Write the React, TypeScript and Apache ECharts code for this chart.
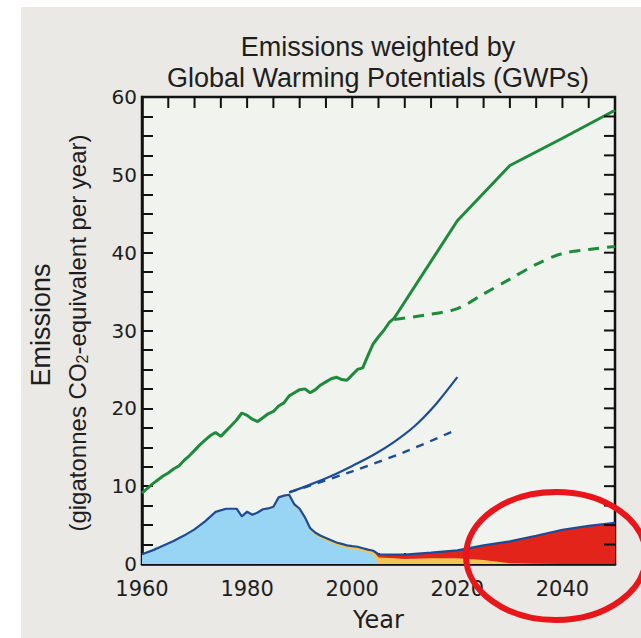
import React, { useEffect, useRef } from 'react';
import * as echarts from 'echarts';

// ---- data ----
const xTickLabels = [1960, 1980, 2000, 2020, 2040];
const yTickLabels = [0, 10, 20, 30, 40, 50, 60];

// ODS and substitutes emissions by group (GtCO2-eq per year)
const stackYears = [
  1960, 1962, 1964, 1966, 1968, 1970, 1972, 1974, 1976, 1977, 1978, 1979, 1980,
  1981, 1982, 1983, 1984, 1985, 1986, 1987, 1988, 1989, 1990, 1991, 1992, 1993,
  1994, 1995, 1996, 1997, 1998, 1999, 2000, 2001, 2002, 2003, 2004, 2005, 2008,
  2010, 2015, 2020, 2025, 2030, 2035, 2040, 2045, 2050,
];
const cfcValues = [
  1.2, 1.7, 2.3, 2.9, 3.6, 4.4, 5.4, 6.6, 7.0, 7.0, 7.0, 6.0, 6.6,
  6.2, 6.5, 6.9, 7.0, 7.2, 8.4, 8.6, 8.7, 7.4, 6.8, 5.7, 4.3, 3.7,
  3.3, 3.0, 2.7, 2.4, 2.2, 2.0, 1.9, 1.8, 1.6, 1.4, 1.25, 0, 0,
  0, 0, 0, 0, 0, 0, 0, 0, 0,
];
const hcfcValues = [
  0.05, 0.05, 0.05, 0.05, 0.05, 0.05, 0.08, 0.1, 0.1, 0.1, 0.1, 0.12, 0.12,
  0.12, 0.12, 0.13, 0.14, 0.15, 0.16, 0.18, 0.2, 0.25, 0.3, 0.3, 0.3, 0.32,
  0.33, 0.35, 0.36, 0.37, 0.38, 0.39, 0.4, 0.42, 0.43, 0.44, 0.45, 0.85, 0.75,
  0.65, 0.75, 0.75, 0.5, 0.1, 0.03, 0, 0, 0,
];
const hfcValues = [
  0, 0, 0, 0, 0, 0, 0, 0, 0, 0, 0, 0, 0,
  0, 0, 0, 0, 0, 0, 0, 0, 0, 0, 0, 0, 0,
  0, 0, 0, 0, 0, 0, 0, 0, 0, 0, 0, 0.4, 0.45,
  0.55, 0.7, 1.0, 1.9, 2.8, 3.6, 4.4, 4.9, 5.3,
];

// ODS without Montreal Protocol (solid) and with natural growth (dashed)
const blueSolidYears = [1988, 1992, 1996, 2000, 2004, 2008, 2012, 2016, 2020];
const blueSolidValues = [9.2, 10.2, 11.3, 12.6, 14.0, 15.7, 17.8, 20.6, 24.0];
const blueDashYears = [1988, 2000, 2010, 2020];
const blueDashValues = [9.2, 11.9, 14.4, 17.3];

// CO2 emissions (green)
const greenYears = [
  1960, 1961, 1962, 1963, 1964, 1965, 1966, 1967, 1968, 1969, 1970, 1971, 1972,
  1973, 1974, 1975, 1976, 1977, 1978, 1979, 1980, 1981, 1982, 1983, 1984, 1985,
  1986, 1987, 1988, 1989, 1990, 1991, 1992, 1993, 1994, 1995, 1996, 1997, 1998,
  1999, 2000, 2001, 2002, 2003, 2004, 2005, 2006, 2007, 2008, 2020, 2030, 2040, 2050,
];
const greenValues = [
  9.1, 9.7, 10.3, 10.8, 11.3, 11.7, 12.2, 12.6, 13.3, 13.9, 14.6, 15.3, 15.9,
  16.5, 16.9, 16.4, 17.1, 17.8, 18.5, 19.4, 19.1, 18.6, 18.3, 18.8, 19.3, 19.6,
  20.3, 20.7, 21.6, 22.0, 22.4, 22.5, 22.0, 22.4, 23.0, 23.4, 23.8, 24.0, 23.7,
  23.6, 24.3, 25.0, 25.2, 26.8, 28.3, 29.2, 30.0, 31.0, 31.6, 44.1, 51.2, 54.7, 58.3,
];
const greenDashYears = [2008, 2014, 2020, 2025, 2030, 2035, 2040, 2045, 2050];
const greenDashValues = [31.4, 32.0, 32.8, 34.7, 36.6, 38.5, 39.9, 40.4, 40.8];

const X_MIN = 1960;
const X_MAX = 2050;
const Y_MIN = 0;
const Y_MAX = 60;

const pair = (xs: number[], ys: number[]) => xs.map((x, i) => [x, ys[i]]);

const TICK_FONT = 'DejaVu Sans';
const TEXT_FONT = 'Liberation Sans';
const INK = '#1e1e1e';
const BLUE = '#1d4c96';
const GREEN = '#1d8b3b';
const TICK_LEN = 11;
const GRID = { left: 142, right: 26, top: 97, bottom: 74 };
const CHART_W = 641;
const CHART_H = 638;

export default function App() {
  const ref = useRef<HTMLDivElement>(null);

  useEffect(() => {
    if (!ref.current) return;
    const chart = echarts.init(ref.current, null, { renderer: 'svg' });

    // cumulative layers (drawn back to front)
    const cfcTop = cfcValues.map((v) => v);
    const hcfcTop = cfcValues.map((v, i) => v + hcfcValues[i]);
    const total = cfcValues.map((v, i) => v + hcfcValues[i] + hfcValues[i]);

    // mirrored ticks on the top frame: vertical segments separated by gaps
    const plotH = CHART_H - GRID.top - GRID.bottom;
    const tickUnits = (TICK_LEN / plotH) * (Y_MAX - Y_MIN);
    const topTickSegs: any[] = [];
    for (let y = X_MIN + 5; y < X_MAX; y += 5) {
      topTickSegs.push([y, Y_MAX], [y, Y_MAX - tickUnits], [y, '-']);
    }
    // mirrored ticks on the right frame
    const rightTicks: number[][] = [];
    for (let v = Y_MIN + 2.5; v < Y_MAX; v += 2.5) rightTicks.push([X_MAX, v]);

    const axisLine = { show: true, onZero: false, lineStyle: { color: '#111', width: 2.5 } };
    const tick = { show: true, inside: true, length: TICK_LEN, lineStyle: { color: '#111', width: 2 } };

    const option: any = {
      animation: false,
      backgroundColor: 'transparent',
      grid: {
        ...GRID,
        show: true,
        backgroundColor: '#f1f3ee',
        borderColor: '#111',
        borderWidth: 2.5,
        containLabel: false,
        outerBoundsMode: 'none',
      },
      xAxis: {
        type: 'value',
        min: X_MIN,
        max: X_MAX,
        interval: 10,
        axisLine,
        axisTick: tick,
        minorTick: { show: true, splitNumber: 2, length: TICK_LEN, lineStyle: { color: '#111', width: 2 } },
        splitLine: { show: false },
        minorSplitLine: { show: false },
        axisLabel: {
          show: true,
          margin: 14,
          fontFamily: TICK_FONT,
          fontSize: 21,
          color: INK,
          showMaxLabel: false,
          formatter: (v: number) => (xTickLabels.indexOf(v) >= 0 ? String(v) : ''),
        },
        name: 'Year',
        nameLocation: 'middle',
        nameGap: 44,
        nameTextStyle: { fontFamily: TICK_FONT, fontSize: 24, color: INK },
      },
      yAxis: {
        type: 'value',
        min: Y_MIN,
        max: Y_MAX,
        interval: 10,
        axisLine,
        axisTick: tick,
        minorTick: { show: true, splitNumber: 4, length: TICK_LEN, lineStyle: { color: '#111', width: 2 } },
        splitLine: { show: false },
        minorSplitLine: { show: false },
        axisLabel: {
          show: true,
          margin: 5,
          fontFamily: TICK_FONT,
          fontSize: 20,
          color: INK,
          formatter: (v: number) => (yTickLabels.indexOf(v) >= 0 ? String(v) : ''),
        },
      },
      series: [
        {
          name: 'HFCs',
          type: 'line',
          data: pair(stackYears, total),
          symbol: 'none',
          lineStyle: { width: 0 },
          areaStyle: { color: '#e2241b', opacity: 1 },
          z: 2,
        },
        {
          name: 'HCFCs',
          type: 'line',
          data: pair(stackYears, hcfcTop),
          symbol: 'none',
          lineStyle: { width: 0 },
          areaStyle: { color: '#f3c552', opacity: 1 },
          z: 3,
        },
        {
          name: 'CFCs',
          type: 'line',
          data: pair(stackYears, cfcTop),
          symbol: 'none',
          lineStyle: { width: 0 },
          areaStyle: { color: '#98d5f5', opacity: 1 },
          z: 4,
        },
        {
          name: 'ODS and substitutes total',
          type: 'line',
          data: pair(stackYears, total),
          symbol: 'none',
          lineStyle: { width: 2.2, color: BLUE },
          z: 5,
        },
        {
          name: 'ODS no Montreal Protocol',
          type: 'line',
          data: pair(blueSolidYears, blueSolidValues),
          symbol: 'none',
          smooth: 0.3,
          lineStyle: { width: 2.2, color: BLUE },
          z: 6,
        },
        {
          name: 'ODS natural growth',
          type: 'line',
          data: pair(blueDashYears, blueDashValues),
          symbol: 'none',
          smooth: 0.3,
          lineStyle: { width: 2.4, color: BLUE, type: [8, 7] },
          z: 6,
        },
        {
          name: 'CO2',
          type: 'line',
          data: pair(greenYears, greenValues),
          symbol: 'none',
          lineStyle: { width: 3, color: GREEN },
          z: 7,
        },
        {
          name: 'CO2 low',
          type: 'line',
          data: pair(greenDashYears, greenDashValues),
          symbol: 'none',
          smooth: 0.3,
          lineStyle: { width: 3, color: GREEN, type: [11, 8] },
          z: 7,
        },
        {
          name: 'top frame ticks',
          type: 'line',
          silent: true,
          clip: false,
          connectNulls: false,
          symbol: 'none',
          data: topTickSegs,
          lineStyle: { width: 2, color: '#111' },
          z: 9,
        },
        {
          name: 'right frame ticks',
          type: 'custom',
          silent: true,
          clip: false,
          z: 8,
          data: rightTicks,
          renderItem: (_p: any, api: any) => {
            const pt = api.coord([api.value(0), api.value(1)]);
            return {
              type: 'rect',
              shape: { x: pt[0] - TICK_LEN, y: pt[1] - 1, width: TICK_LEN, height: 2 },
              style: { fill: '#111' },
            };
          },
        },
      ],
      graphic: [
        {
          type: 'text',
          x: 378,
          y: 47,
          style: {
            text: 'Emissions weighted by',
            fontFamily: TEXT_FONT,
            fontSize: 27,
            fill: INK,
            align: 'center',
            verticalAlign: 'middle',
          },
        },
        {
          type: 'text',
          x: 378,
          y: 78,
          style: {
            text: 'Global Warming Potentials (GWPs)',
            fontFamily: TEXT_FONT,
            fontSize: 27,
            fill: INK,
            align: 'center',
            verticalAlign: 'middle',
          },
        },
        {
          type: 'text',
          x: 41,
          y: 325,
          rotation: Math.PI / 2,
          style: {
            text: 'Emissions',
            fontFamily: TEXT_FONT,
            fontSize: 27,
            fill: INK,
            align: 'center',
            verticalAlign: 'middle',
          },
        },
        {
          type: 'text',
          x: 77,
          y: 333,
          rotation: Math.PI / 2,
          style: {
            text: '{b|(gigatonnes CO}{s|2}{b|-equivalent per year)}',
            align: 'center',
            verticalAlign: 'middle',
            rich: {
              b: { fontFamily: TEXT_FONT, fontSize: 24, fill: INK, lineHeight: 26 },
              s: { fontFamily: TEXT_FONT, fontSize: 16, fill: INK, lineHeight: 14, verticalAlign: 'bottom' },
            },
          },
        },
        {
          type: 'ellipse',
          shape: { cx: 556, cy: 556, rx: 90, ry: 64 },
          style: { fill: 'none', stroke: '#e8151b', lineWidth: 6 },
          z: 100,
        },
      ],
    };

    chart.setOption(option);
    return () => chart.dispose();
  }, []);

  return (
    <div
      style={{
        position: 'fixed',
        left: 0,
        top: 0,
        width: CHART_W,
        height: CHART_H,
        background:
          'linear-gradient(#eae9e5, #eae9e5) 21px 7px / 620px 631px no-repeat, #ffffff',
      }}
    >
      <div ref={ref} style={{ width: CHART_W, height: CHART_H }} />
    </div>
  );
}
